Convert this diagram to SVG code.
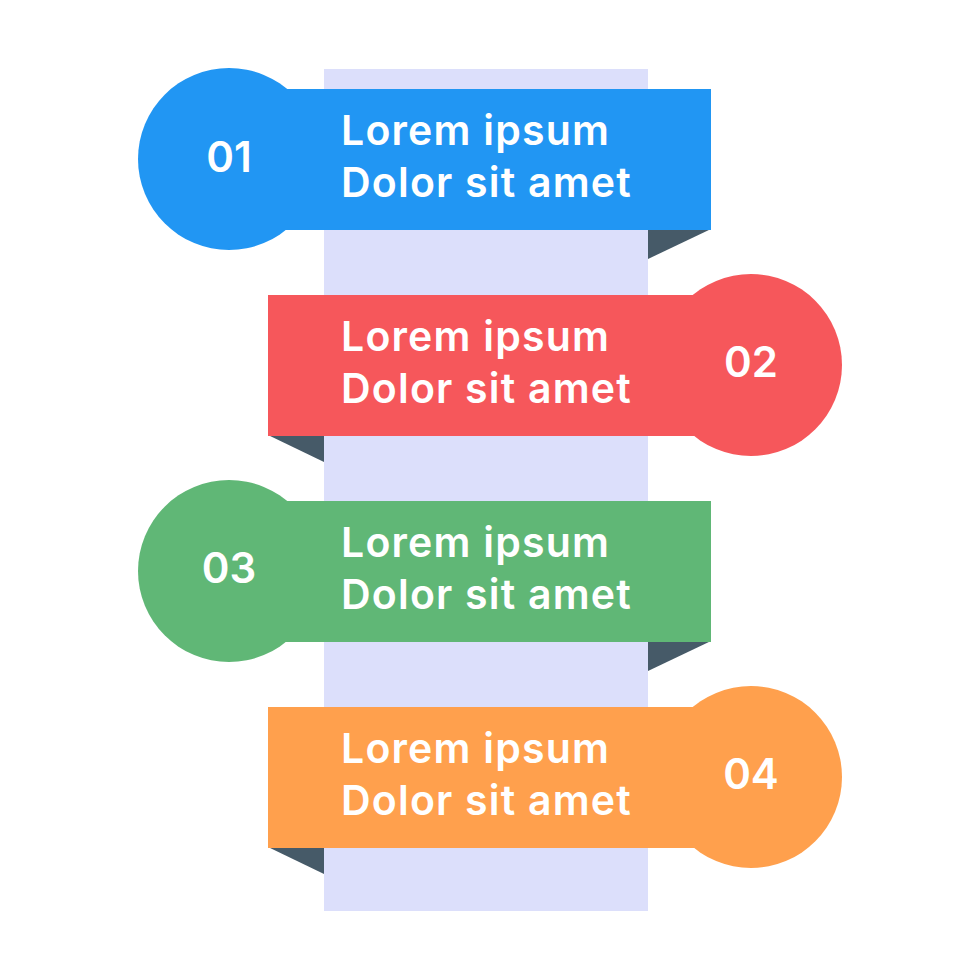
<svg xmlns="http://www.w3.org/2000/svg" width="980" height="980" viewBox="0 0 980 980">
<style>
.t{font-family:"Inter","Noto Sans",sans-serif;font-weight:600;font-size:41px;letter-spacing:1.2px;fill:#fff}
.n{font-family:"Inter","Noto Sans",sans-serif;font-weight:600;font-size:42px;fill:#fff;text-anchor:middle}
.f{fill:#465a68}
</style>
<rect width="980" height="980" fill="#fff"/>
<rect id="column" x="324" y="69" width="324" height="842" fill="#dcdffb"/>
<g id="node1"><path class="f" d="M648 229H711L648 259Z"/><circle cx="229" cy="159" r="91" fill="#2196f3"/><rect x="270" y="89" width="441" height="141" fill="#2196f3"/><text class="n" x="229" y="172">01</text><text class="t" x="341" y="145">Lorem ipsum</text><text class="t" x="341" y="197">Dolor sit amet</text></g>
<g id="node2"><path class="f" d="M268 435H324V462Z"/><circle cx="751" cy="365" r="91" fill="#f6575b"/><rect x="268" y="295" width="441" height="141" fill="#f6575b"/><text class="n" x="751" y="377">02</text><text class="t" x="341" y="351">Lorem ipsum</text><text class="t" x="341" y="403">Dolor sit amet</text></g>
<g id="node3"><path class="f" d="M648 641H711L648 671Z"/><circle cx="229" cy="571" r="91" fill="#60b776"/><rect x="270" y="501" width="441" height="141" fill="#60b776"/><text class="n" x="229" y="583">03</text><text class="t" x="341" y="557">Lorem ipsum</text><text class="t" x="341" y="609">Dolor sit amet</text></g>
<g id="node4"><path class="f" d="M268 847H324V874Z"/><circle cx="751" cy="777" r="91" fill="#ffa04d"/><rect x="268" y="707" width="441" height="141" fill="#ffa04d"/><text class="n" x="751" y="789">04</text><text class="t" x="341" y="763">Lorem ipsum</text><text class="t" x="341" y="815">Dolor sit amet</text></g>
<g id="connectors"></g>
</svg>
